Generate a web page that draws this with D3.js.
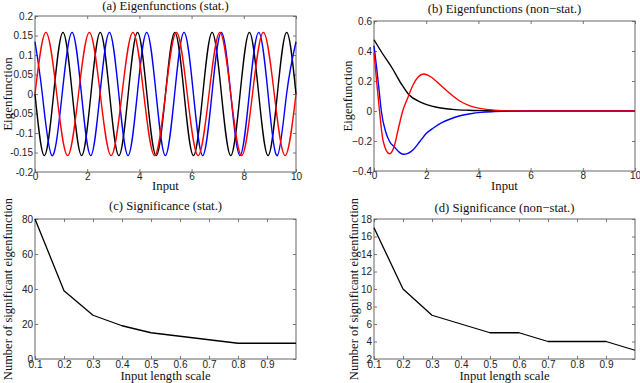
<!DOCTYPE html>
<html><head><meta charset="utf-8">
<script src="https://cdn.jsdelivr.net/npm/d3@7"></script>
<style>body{margin:0;background:#fff}svg{display:block}</style>
</head><body><svg id="chart" width="640" height="383"></svg>
<script>
// ---------- Panel (a): stationary eigenfunctions ----------
const aBlackX = [0,0.357,0.714,1.071,1.429,1.786,2.143,2.5,2.857,3.214,3.571,3.929,4.286,4.643,5,5.357,5.714,6.071,6.429,6.786,7.143,7.5,7.857,8.214,8.571,8.929,9.286,9.643,10];
const aBlackY = [0,-0.158,0,0.158,0,-0.158,0,0.158,0,-0.158,0,0.158,0,-0.158,0,0.158,0,-0.158,0,0.158,0,-0.158,0,0.158,0,-0.158,0,0.158,0];
const aBlueX = [0,0.28,0.65,1.04,1.42,1.78,2.135,2.49,2.85,3.21,3.565,3.92,4.28,4.64,4.995,5.35,5.71,6.07,6.425,6.78,7.14,7.5,7.855,8.21,8.57,8.93,9.285,9.64,10];
const aBlueY = [0.134,0,-0.158,0,0.158,0,-0.158,0,0.158,0,-0.158,0,0.158,0,-0.158,0,0.158,0,-0.158,0,0.158,0,-0.158,0,0.158,0,-0.158,0,0.134];
const aRedX = [0,0.417,0.833,1.25,1.667,2.083,2.5,2.917,3.333,3.75,4.167,4.583,5,5.417,5.833,6.25,6.667,7.083,7.5,7.917,8.333,8.75,9.167,9.583,10];
const aRedY = [0,0.158,0,-0.158,0,0.158,0,-0.158,0,0.158,0,-0.158,0,0.158,0,-0.158,0,0.158,0,-0.158,0,0.158,0,-0.158,0];
const aXTicks = [0,2,4,6,8,10];
const aXTickLabels = ["0","2","4","6","8","10"];
const aYTicks = [-0.2,-0.15,-0.1,-0.05,0,0.05,0.1,0.15,0.2];
const aYTickLabels = ["-0.2","-0.15","-0.1","-0.05","0","0.05","0.1","0.15","0.2"];

// ---------- Panel (b): non-stationary eigenfunctions ----------
const bBlackX = [0,0.3,0.7,1.05,1.33,1.8,2.4,3.0,3.6,4.3,5,6,8,10];
const bBlackY = [0.475,0.39,0.285,0.18,0.11,0.058,0.025,0.011,0.005,0.002,0,0,0,0];
const bBlueX = [0,0.1,0.2,0.28,0.45,0.6,0.77,0.95,1.12,1.3,1.5,1.75,2.0,2.3,2.6,2.9,3.3,3.7,4.1,4.6,5.2,6,8,10];
const bBlueY = [0.435,0.29,0.13,0,-0.14,-0.205,-0.238,-0.272,-0.288,-0.282,-0.258,-0.205,-0.15,-0.11,-0.078,-0.055,-0.032,-0.018,-0.009,-0.004,-0.001,0,0,0];
const bRedX = [0,0.1,0.2,0.35,0.59,0.77,0.93,1.1,1.3,1.5,1.7,1.9,2.2,2.5,2.9,3.3,3.7,4.1,4.6,5.2,6,8,10];
const bRedY = [0.39,0.2,0.02,-0.2,-0.285,-0.238,-0.12,0,0.09,0.175,0.228,0.247,0.225,0.18,0.118,0.065,0.033,0.016,0.006,0.001,0,0,0];
const bXTicks = [0,2,4,6,8,10];
const bXTickLabels = ["0","2","4","6","8","10"];
const bYTicks = [-0.4,-0.2,0,0.2,0.4,0.6];
const bYTickLabels = ["\u22120.4","\u22120.2","0","0.2","0.4","0.6"];

// ---------- Panels (c),(d): significance ----------
const lengthScales = [0.1,0.2,0.3,0.4,0.5,0.6,0.7,0.8,0.9,1.0];
const cCounts = [80,39,25,19,15,13,11,9,9,9];
const dCounts = [17,10,7,6,5,5,4,4,4,3];
const cdXTicks = [0.1,0.2,0.3,0.4,0.5,0.6,0.7,0.8,0.9];
const cdXTickLabels = ["0.1","0.2","0.3","0.4","0.5","0.6","0.7","0.8","0.9"];
const cYTicks = [0,20,40,60,80];
const cYTickLabels = ["0","20","40","60","80"];
const dYTicks = [2,4,6,8,10,12,14,16,18];
const dYTickLabels = ["2","4","6","8","10","12","14","16","18"];

const svg = d3.select("#chart");
const SERIF = "'Liberation Serif','Times New Roman',serif";
const SANS = "'Liberation Sans',Arial,Helvetica,sans-serif";

function panel(cfg) {
  const x = d3.scaleLinear().domain(cfg.xDomain).range([cfg.left, cfg.right]);
  const y = d3.scaleLinear().domain(cfg.yDomain).range([cfg.bottom, cfg.top]);
  const g = svg.append("g");

  const mk = (axis, ticks, labels, show, pad) => axis.tickValues(ticks)
    .tickSize(-3).tickPadding(show ? pad : 0)
    .tickFormat((d, i) => show ? labels[i] : "");

  const styleAxis = sel => {
    sel.select(".domain").remove();
    sel.selectAll(".tick line").attr("stroke", "#555").attr("stroke-width", 0.8);
    sel.selectAll(".tick text").attr("fill", "#222")
      .style("font-family", SANS).style("font-size", cfg.tickFont + "px");
  };
  g.append("g").attr("transform", `translate(0,${cfg.bottom})`)
    .call(mk(d3.axisBottom(x), cfg.xTicks, cfg.xTickLabels, true, cfg.xPad)).call(styleAxis);
  g.append("g").attr("transform", `translate(0,${cfg.top})`)
    .call(mk(d3.axisTop(x), cfg.xTicks, cfg.xTickLabels, false, 0)).call(styleAxis);
  g.append("g").attr("transform", `translate(${cfg.left},0)`)
    .call(mk(d3.axisLeft(y), cfg.yTicks, cfg.yTickLabels, true, 2)).call(styleAxis);
  g.append("g").attr("transform", `translate(${cfg.right},0)`)
    .call(mk(d3.axisRight(y), cfg.yTicks, cfg.yTickLabels, false, 0)).call(styleAxis);

  g.append("rect").attr("x", cfg.left).attr("y", cfg.top)
    .attr("width", cfg.right - cfg.left).attr("height", cfg.bottom - cfg.top)
    .attr("fill", "none").attr("stroke", "#666").attr("stroke-width", 1);

  const line = d3.line().x(d => x(d[0])).y(d => y(d[1])).curve(cfg.curve);
  cfg.series.forEach(s => {
    g.append("path").datum(s.xs.map((v, i) => [v, s.ys[i]]))
      .attr("d", line).attr("fill", "none").attr("stroke", s.color)
      .attr("stroke-width", cfg.lw).attr("stroke-linejoin", "round");
  });

  const cx = (cfg.left + cfg.right) / 2, cy = (cfg.top + cfg.bottom) / 2;
  g.append("text").attr("x", cx).attr("y", cfg.titleY).attr("text-anchor", "middle")
    .style("font-family", SERIF).style("font-size", "12.7px").attr("fill", "#111").text(cfg.title);
  g.append("text").attr("x", cx).attr("y", cfg.xLabelY).attr("text-anchor", "middle")
    .style("font-family", SERIF).style("font-size", "12.7px").attr("fill", "#111").text(cfg.xLabel);
  g.append("text").attr("transform", `translate(${cfg.yLabelX},${cy + (cfg.yLabelDy || 0)}) rotate(-90)`)
    .attr("text-anchor", "middle")
    .style("font-family", SERIF).style("font-size", cfg.yLabelFont + "px").attr("fill", "#111").text(cfg.yLabel);
}

panel({
  left: 35, right: 296, top: 16, bottom: 172, xDomain: [0, 10], yDomain: [-0.2, 0.2],
  xTicks: aXTicks, xTickLabels: aXTickLabels, yTicks: aYTicks, yTickLabels: aYTickLabels,
  xPad: 1, tickFont: 10, lw: 1.4, curve: d3.curveNatural,
  title: "(a) Eigenfunctions (stat.)", titleY: 10,
  xLabel: "Input", xLabelY: 190, yLabel: "Eigenfunction", yLabelX: 12, yLabelFont: 13,
  series: [
    {xs: aBlackX, ys: aBlackY, color: "#000000"},
    {xs: aBlueX, ys: aBlueY, color: "#0000ff"},
    {xs: aRedX, ys: aRedY, color: "#ff0000"}
  ]
});

panel({
  left: 374, right: 635, top: 21, bottom: 171, xDomain: [0, 10], yDomain: [-0.4, 0.6],
  xTicks: bXTicks, xTickLabels: bXTickLabels, yTicks: bYTicks, yTickLabels: bYTickLabels,
  xPad: 1, tickFont: 10, lw: 1.4, curve: d3.curveMonotoneX,
  title: "(b) Eigenfunctions (non\u2212stat.)", titleY: 13,
  xLabel: "Input", xLabelY: 190, yLabel: "Eigenfunction", yLabelX: 352, yLabelFont: 12.5,
  series: [
    {xs: bBlackX, ys: bBlackY, color: "#000000"},
    {xs: bBlueX, ys: bBlueY, color: "#0000ff"},
    {xs: bRedX, ys: bRedY, color: "#ff0000"}
  ]
});

panel({
  left: 35, right: 296, top: 219, bottom: 359, xDomain: [0.1, 1.0], yDomain: [0, 80],
  xTicks: cdXTicks, xTickLabels: cdXTickLabels, yTicks: cYTicks, yTickLabels: cYTickLabels,
  xPad: 2, tickFont: 10, lw: 1.3, curve: d3.curveLinear,
  title: "(c) Significance (stat.)", titleY: 210,
  xLabel: "Input length scale", xLabelY: 380, yLabel: "Number of significant eigenfunction", yLabelX: 11.5, yLabelFont: 12.5,
  series: [{xs: lengthScales, ys: cCounts, color: "#000000"}]
});

panel({
  left: 374, right: 635, top: 219, bottom: 359, xDomain: [0.1, 1.0], yDomain: [2, 18],
  xTicks: cdXTicks, xTickLabels: cdXTickLabels, yTicks: dYTicks, yTickLabels: dYTickLabels,
  xPad: 2, tickFont: 10, lw: 1.3, curve: d3.curveLinear,
  title: "(d) Significance (non\u2212stat.)", titleY: 212,
  xLabel: "Input length scale", xLabelY: 380, yLabel: "Number of significant eigenfunction", yLabelX: 358, yLabelFont: 12.5,
  series: [{xs: lengthScales, ys: dCounts, color: "#000000"}]
});
</script></body></html>
